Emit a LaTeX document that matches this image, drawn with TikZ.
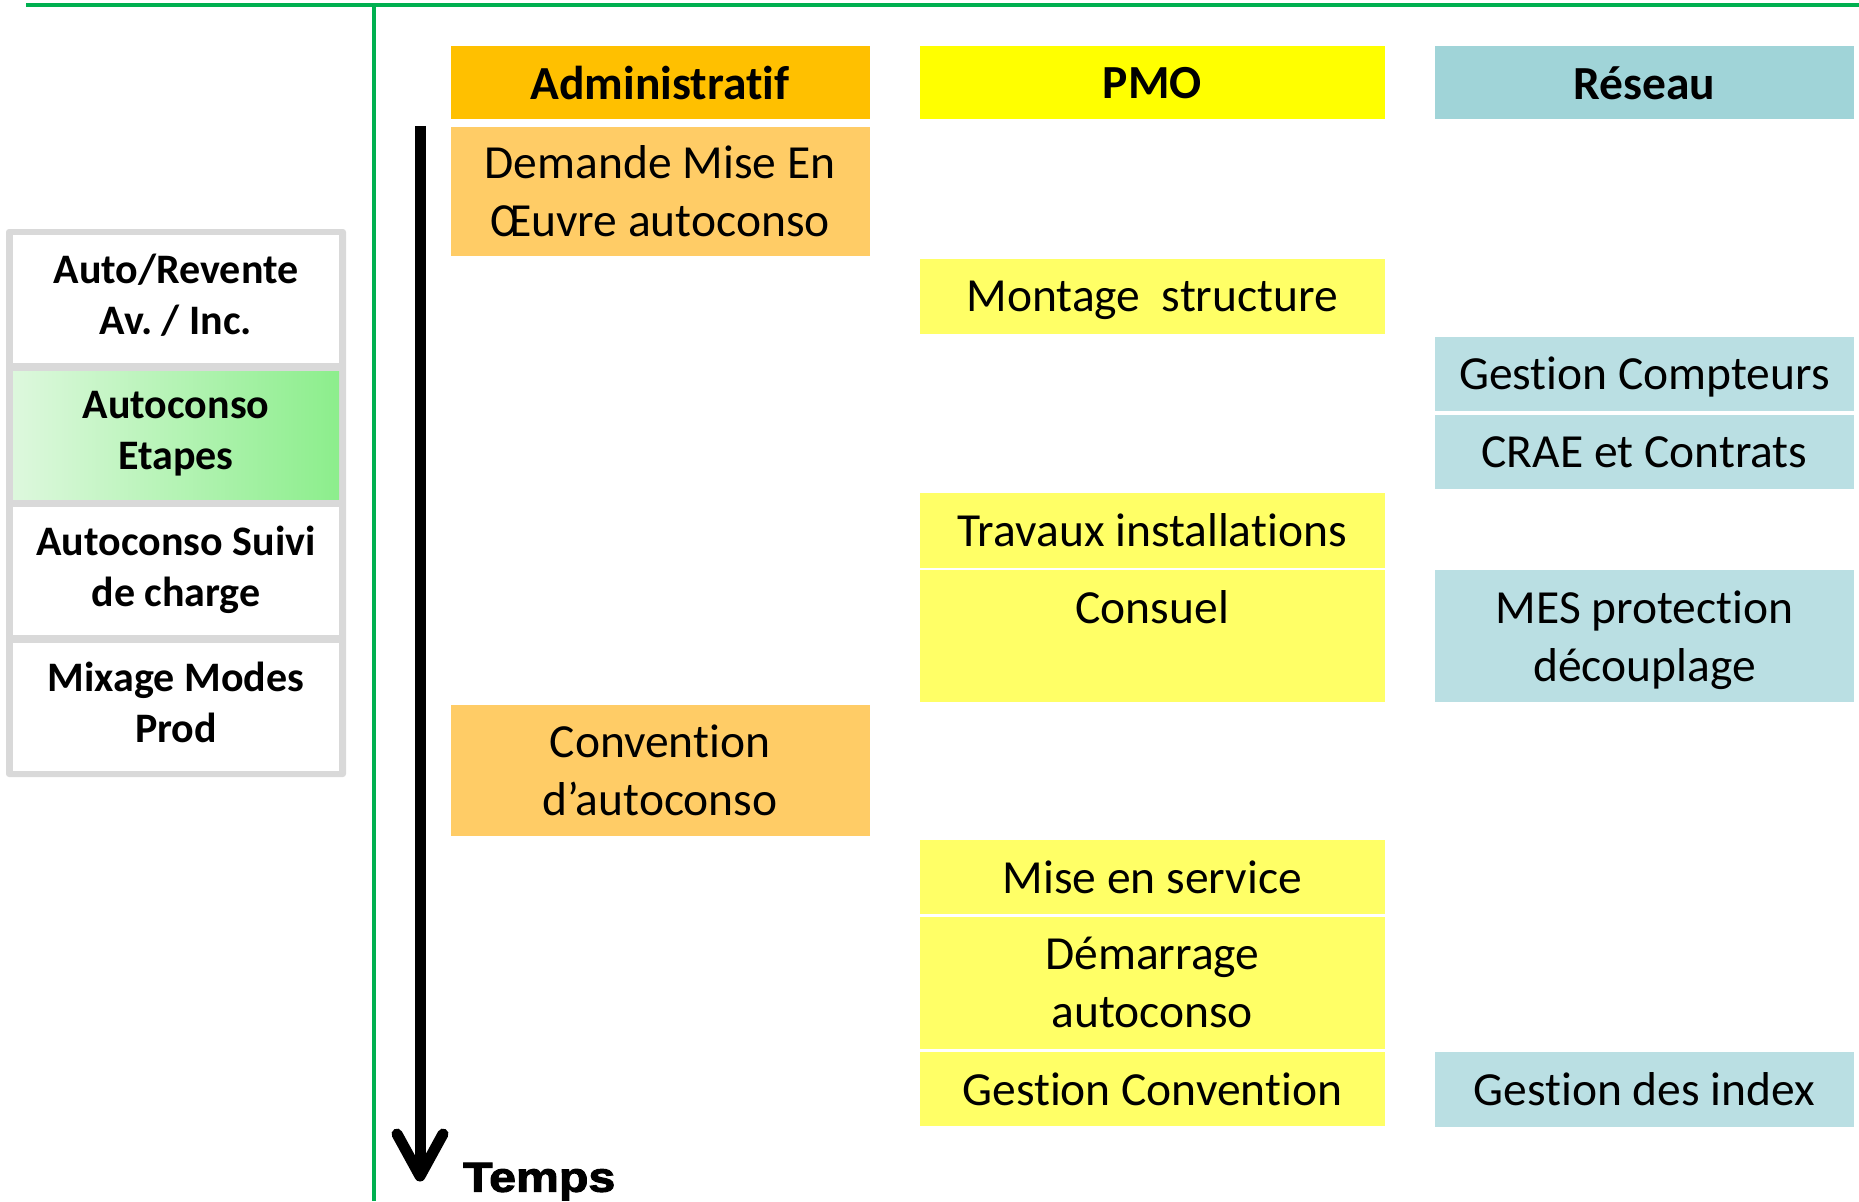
\documentclass[tikz,border=0pt]{standalone}
\usepackage{fontspec}
\setmainfont[Ligatures=NoCommon]{Carlito}
\newfontfamily\tempsfont[FakeBold=2.5,FakeStretch=1.15]{Liberation Sans Bold}
\frenchspacing
\definecolor{orangeH}{HTML}{FFC000}
\definecolor{orangeL}{HTML}{FFCC66}
\definecolor{yellowH}{HTML}{FFFF00}
\definecolor{yellowL}{HTML}{FFFF66}
\definecolor{tealH}{HTML}{A0D4D8}
\definecolor{tealL}{HTML}{BADFE3}
\definecolor{lineGreen}{HTML}{00B050}
\definecolor{frameGray}{HTML}{D9D9D9}
\definecolor{gradL}{HTML}{DDF8DD}
\definecolor{gradR}{HTML}{8CEE8C}
\tikzset{
  cell/.style={anchor=north west, inner sep=0pt, outer sep=0pt, align=center,
    text=black, text depth=0pt, font=\fontsize{47.5}{58}\selectfont},
  headcell/.style={cell, minimum height=72.5pt, font=\fontsize{47.5}{58}\selectfont\bfseries},
  colA/.style={minimum width=419pt},
  colP/.style={minimum width=465.5pt},
  colR/.style={minimum width=419pt},
  leftcell/.style={anchor=north west, inner sep=0pt, outer sep=0pt, align=center,
    minimum width=326pt, minimum height=128pt, fill=white, text depth=9pt,
    font=\fontsize{42}{51}\selectfont\bfseries},
  greenline/.style={draw=lineGreen, line width=4pt},
  timeline/.style={line width=11pt, draw=black},
}
\begin{document}
\begin{tikzpicture}[x=1pt,y=-1pt]
\useasboundingbox (0,0) rectangle (1859,1201);
% green separators
\coordinate (gl) at (26,4.7);
\coordinate (gr) at (1859,4.7);
\coordinate (gt) at (373.5,4.7);
\coordinate (gb) at (373.5,1201);
\draw[greenline] (gl) -- (gr);
\draw[greenline] (gt) -- (gb);
% left panel
\fill[frameGray, rounded corners=3pt] (6,229) rectangle (346,777);
\node[leftcell] (l1) at (13,235) {Auto/Revente\\Av. / Inc.};
\node[leftcell, fill=none, left color=gradL, right color=gradR] (l2) at (13,371) {Autoconso\\Etapes};
\node[leftcell] (l3) at (13,507) {Autoconso Suivi\\de charge};
\node[leftcell] (l4) at (13,643) {Mixage Modes\\Prod};
% headers
\node[headcell, colA, fill=orangeH] (hA) at (450.5,46.5) {Administratif};
\node[headcell, colP, fill=yellowH] (hP) at (919.5,46.5) {PMO};
\node[headcell, colR, fill=tealH] (hR) at (1435,46.5) {Réseau};
% Administratif
\node[cell, colA, fill=orangeL, minimum height=128.5pt] (a1) at (450.5,127) {Demande Mise En\\Œuvre autoconso};
\node[cell, colA, fill=orangeL, minimum height=131pt] (a2) at (450.5,705) {Convention\\d’autoconso};
% PMO
\node[cell, colP, fill=yellowL, minimum height=74.5pt] (p1) at (919.5,259) {Montage~~structure};
\node[cell, colP, fill=yellowL, minimum height=74.5pt] (p2) at (919.5,493) {Travaux installations};
\node[cell, colP, fill=yellowL, minimum height=131.5pt] (p3) at (919.5,570) {Consuel\\\mbox{}};
\node[cell, colP, fill=yellowL, minimum height=74.5pt] (p4) at (919.5,839.5) {Mise en service};
\node[cell, colP, fill=yellowL, minimum height=131.5pt] (p5) at (919.5,917) {Démarrage\\autoconso};
\node[cell, colP, fill=yellowL, minimum height=74pt] (p6) at (919.5,1052) {Gestion Convention};
% Reseau
\node[cell, colR, fill=tealL, minimum height=74pt] (r1) at (1435,336.5) {Gestion Compteurs};
\node[cell, colR, fill=tealL, minimum height=74pt] (r2) at (1435,415) {CRAE et Contrats};
\node[cell, colR, fill=tealL, minimum height=131.5pt] (r3) at (1435,570) {MES protection\\découplage};
\node[cell, colR, fill=tealL, minimum height=74.5pt] (r4) at (1435,1052) {Gestion des index};
% time arrow
\coordinate (atop) at (420,126);
\coordinate (atip) at (420,1176);
\coordinate (wl) at (397,1134);
\coordinate (wr) at (443,1134);
\draw[timeline] (atop) -- (atip);
\draw[timeline, line cap=round, line join=round] (wl) -- (atip) -- (wr);
\node[anchor=base west, inner sep=0pt, font=\tempsfont\fontsize{42}{50}\selectfont] (temps) at (463,1191.7) {Temps};
\end{tikzpicture}
\end{document}
